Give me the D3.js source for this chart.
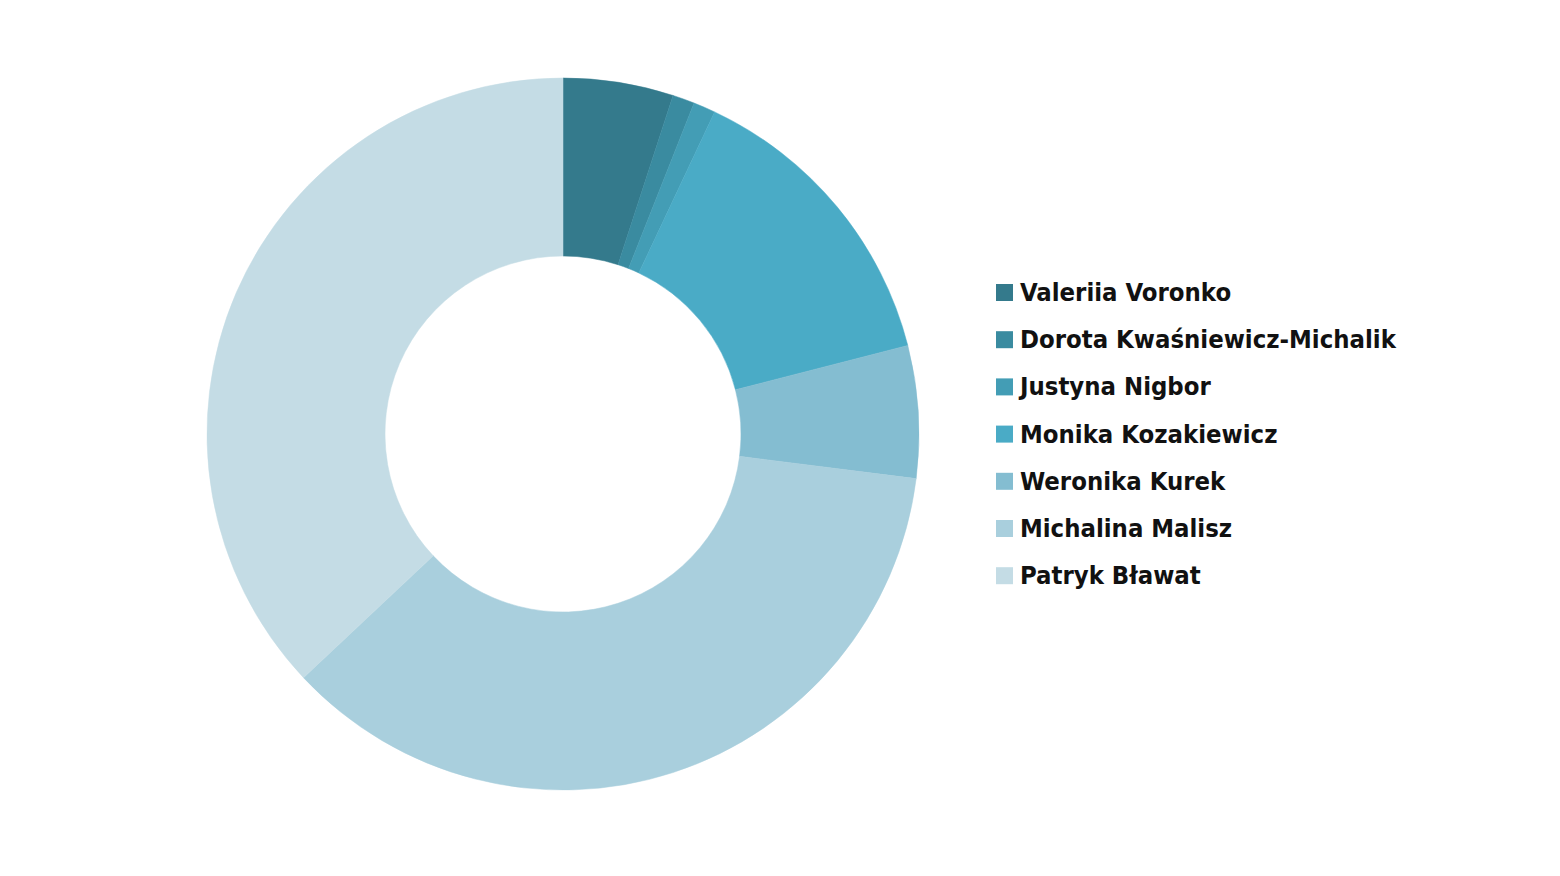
<!DOCTYPE html>
<html><head><meta charset="utf-8">
<script src="https://cdn.jsdelivr.net/npm/d3@7"></script>
<style>html,body{margin:0;padding:0;background:#fff;}svg{display:block;}</style>
</head><body>
<svg id="chart" width="1560" height="876"></svg>
<script>
const names = ["Valeriia Voronko","Dorota Kwaśniewicz-Michalik","Justyna Nigbor","Monika Kozakiewicz","Weronika Kurek","Michalina Malisz","Patryk Bławat"];
const values = [5,1,1,14,6,36,37];
const colors = ["#347A8C","#3A8BA0","#439DB5","#4AABC6","#84BDD1","#A9CFDD","#C4DCE5"];

const svg = d3.select("#chart");
const cx = 563, cy = 434, R = 356, r = 178;
const data = names.map((n,i)=>({name:n,value:values[i],color:colors[i]}));
const pie = d3.pie().value(d=>d.value).sort(null);
const arc = d3.arc().innerRadius(r).outerRadius(R);
const g = svg.append("g").attr("transform",`translate(${cx},${cy})`);
g.selectAll("path").data(pie(data)).join("path")
  .attr("d",arc).attr("fill",d=>d.data.color)
  .attr("stroke",d=>d.data.color).attr("stroke-width",0.5);

const lg = svg.append("g").attr("transform","translate(996,292)");
const rowH = 47.2;
const items = lg.selectAll("g").data(data).join("g")
  .attr("transform",(d,i)=>`translate(0,${i*rowH})`);
items.append("rect").attr("x",0).attr("y",-8).attr("width",17).attr("height",17).attr("fill",d=>d.color);
const texts = items.append("text").attr("x",24).attr("y",9)
  .attr("font-family","'DejaVu Sans Condensed','DejaVu Sans',sans-serif")
  .attr("font-weight","bold").attr("font-size",26).attr("fill","#111")
  .text(d=>d.name);
// fit longest label width to ~376px
const w = texts.nodes()[1].getComputedTextLength();
const fs = 26*376/w;
texts.attr("font-size",fs);
</script>
</body></html>
